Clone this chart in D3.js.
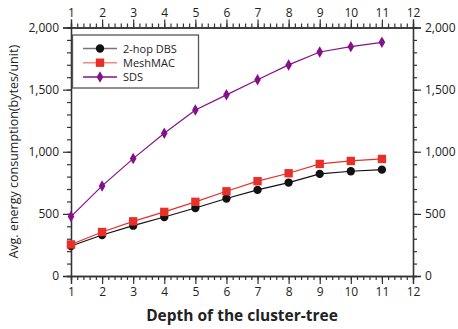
<!DOCTYPE html>
<html>
<head>
<meta charset="utf-8">
<script src="https://cdn.jsdelivr.net/npm/d3@7"></script>
<style>
  body { margin: 0; background: #fff; }
  text { font-family: "Open Sans", "DejaVu Sans", sans-serif; }
</style>
</head>
<body>
<div id="chart"></div>
<script>
var depth = [1, 2, 3, 4, 5, 6, 7, 8, 9, 10, 11];
var dbs = [241, 330, 405, 475, 547, 624, 693, 752, 822, 843, 856];
var meshmac = [254, 354, 440, 516, 597, 682, 763, 827, 902, 926, 942];
var sds = [478, 725, 945, 1149, 1336, 1458, 1579, 1699, 1803, 1846, 1881];
var seriesNames = ["2-hop DBS", "MeshMAC", "SDS"];
var xTicks = [1, 2, 3, 4, 5, 6, 7, 8, 9, 10, 11, 12];
var yTicks = [0, 500, 1000, 1500, 2000];

var width = 458, height = 329;
var margin = {top: 27.5, right: 45, bottom: 53, left: 71};
var w = width - margin.left - margin.right;
var h = height - margin.top - margin.bottom;

var svg = d3.select("#chart").append("svg")
    .attr("width", width)
    .attr("height", height);

var g = svg.append("g")
    .attr("transform", "translate(" + margin.left + "," + margin.top + ")");

var x = d3.scaleLinear().domain([1, 12]).range([0, w]);
var y = d3.scaleLinear().domain([0, 2000]).range([h, 0]);

var fmt = d3.format(",");
var axisColor = "#333";

// minor ticks first, then major ones with labels
function minor(axis, scale, step) {
    var d = scale.domain();
    return axis.tickValues(d3.range(d[0], d[1] + step / 2, step)).tickSize(4).tickFormat("");
}

g.append("g").attr("transform", "translate(0," + h + ")")
    .call(minor(d3.axisBottom(x), x, 0.2));
g.append("g")
    .call(minor(d3.axisTop(x), x, 0.2));
g.append("g")
    .call(minor(d3.axisLeft(y), y, 100));
g.append("g").attr("transform", "translate(" + w + ",0)")
    .call(minor(d3.axisRight(y), y, 100));

g.append("g").attr("class", "major").attr("transform", "translate(0," + h + ")")
    .call(d3.axisBottom(x).tickValues(xTicks).tickSize(8).tickPadding(3).tickFormat(d3.format("d")));
g.append("g").attr("class", "major")
    .call(d3.axisTop(x).tickValues(xTicks).tickSize(8).tickPadding(3).tickFormat(d3.format("d")));
g.append("g").attr("class", "major")
    .call(d3.axisLeft(y).tickValues(yTicks).tickSize(8).tickPadding(4).tickFormat(fmt));
g.append("g").attr("class", "major").attr("transform", "translate(" + w + ",0)")
    .call(d3.axisRight(y).tickValues(yTicks).tickSize(8).tickPadding(4).tickFormat(fmt));

g.selectAll(".domain").attr("stroke", axisColor).attr("stroke-width", 1.3);
g.selectAll(".tick line").attr("stroke", axisColor).attr("stroke-width", 1.2);
g.selectAll(".major text").attr("font-size", 12).attr("fill", "#222");

// axis titles
svg.append("text")
    .attr("x", margin.left + w / 2)
    .attr("y", height - 8)
    .attr("text-anchor", "middle")
    .attr("font-size", 15.5)
    .attr("font-weight", "bold")
    .attr("fill", "#222")
    .text("Depth of the cluster-tree");

svg.append("text")
    .attr("transform", "translate(18," + (margin.top + h / 2) + ") rotate(-90)")
    .attr("text-anchor", "middle")
    .attr("font-size", 12.5)
    .attr("fill", "#222")
    .text("Avg. energy consumption(bytes/unit)");

var series = [
    {name: seriesNames[0], values: dbs, color: "#111", legendLine: "#777", shape: d3.symbolCircle, size: 55},
    {name: seriesNames[1], values: meshmac, color: "#e8302a", legendLine: "#f08a80", shape: d3.symbolSquare, size: 70},
    {name: seriesNames[2], values: sds, color: "#86108a", legendLine: "#86108a", shape: d3.symbolDiamond, size: 38}
];

var line = d3.line()
    .x(function (d, i) { return x(depth[i]); })
    .y(function (d) { return y(d); });

series.forEach(function (s) {
    g.append("path")
        .datum(s.values)
        .attr("fill", "none")
        .attr("stroke", s.color)
        .attr("stroke-width", 1.2)
        .attr("d", line);

    g.selectAll(null).data(s.values).enter().append("path")
        .attr("d", d3.symbol().type(s.shape).size(s.size))
        .attr("transform", function (d, i) { return "translate(" + x(depth[i]) + "," + y(d) + ")"; })
        .attr("fill", s.color);
});

// legend
var lg = svg.append("g").attr("transform", "translate(72.5,35)");
lg.append("rect")
    .attr("width", 126)
    .attr("height", 53)
    .attr("fill", "#fff")
    .attr("stroke", "#555")
    .attr("stroke-width", 1.3);

series.forEach(function (s, i) {
    var yy = 13.5 + i * 14.2;
    lg.append("line")
        .attr("x1", 10.5).attr("x2", 44.5)
        .attr("y1", yy).attr("y2", yy)
        .attr("stroke", s.legendLine)
        .attr("stroke-width", 1.5);
    lg.append("path")
        .attr("d", d3.symbol().type(s.shape).size(s.size))
        .attr("transform", "translate(27.5," + yy + ")")
        .attr("fill", s.color);
    lg.append("text")
        .attr("x", 50.5)
        .attr("y", yy + 4)
        .attr("font-family", "DejaVu Sans")
        .attr("font-size", 11)
        .attr("fill", "#222")
        .text(s.name);
});
</script>
</body>
</html>
